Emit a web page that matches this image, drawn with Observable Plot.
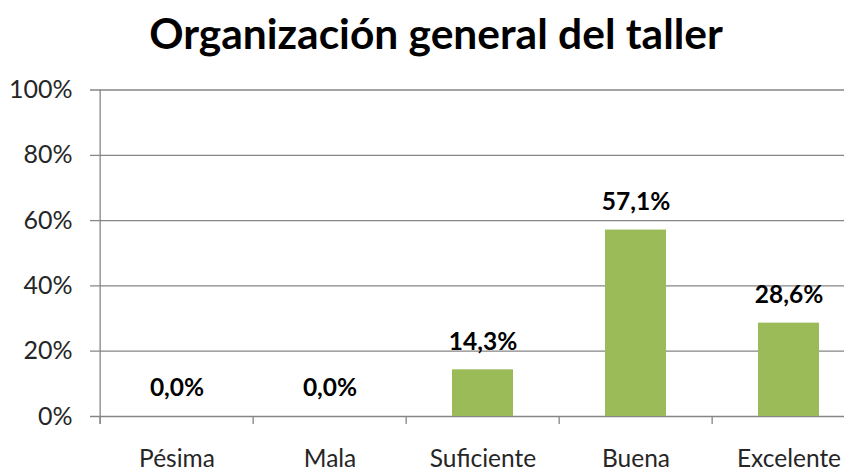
<!DOCTYPE html>
<html>
<head>
<meta charset="utf-8">
<script src="https://cdn.jsdelivr.net/npm/d3@7"></script>
<script src="https://cdn.jsdelivr.net/npm/@observablehq/plot@0.6"></script>
<style>
  html, body { margin: 0; padding: 0; background: #fff; overflow: hidden; }
  #wrap { position: relative; width: 844px; height: 469px; }
  #title { position: absolute; left: 0; top: 8px; width: 872px; text-align: center;
           font-family: Lato, sans-serif; font-weight: bold; font-size: 42.5px; color: #000;
           line-height: 50px; }
  #chart { position: absolute; left: 0; top: 70px; }
</style>
</head>
<body>
<div id="wrap">
  <div id="title">Organización general del taller</div>
  <div id="chart"></div>
</div>
<script>
const categories = ["Pésima", "Mala", "Suficiente", "Buena", "Excelente"];
const values = [0.0, 0.0, 14.3, 57.1, 28.6];
const yTicks = [0, 20, 40, 60, 80, 100];

const data = categories.map((c, i) => ({category: c, value: values[i]}));
const fmt = v => v.toFixed(1).replace(".", ",") + "%";

const W = 844, H = 399;
const x0 = 98, x1 = 866.5;
const step = (x1 - x0) / categories.length;
const grid = "#868686";

const plot = Plot.plot({
  width: W,
  height: H,
  marginTop: 19.5,
  marginBottom: 53,
  marginLeft: x0,
  marginRight: 0,
  style: {fontFamily: "Lato, sans-serif", background: "#fff", overflow: "hidden"},
  x: {domain: categories, range: [x0, x1], paddingInner: 0.6, paddingOuter: 0.3, label: null},
  y: {domain: [0, 100], label: null},
  marks: [
    Plot.ruleY(yTicks, {stroke: grid, strokeWidth: 1.3, insetLeft: -8, strokeOpacity: 1}),
    Plot.ruleX([categories[0]], {x: d => d, dx: -step / 2, stroke: grid, strokeWidth: 1.3, insetBottom: -8}),
    Plot.axisX({tickSize: 8, text: null, dx: -step / 2, stroke: grid, strokeWidth: 1.3, strokeOpacity: 1}),
    Plot.axisX({tickSize: 0, tickPadding: 33, fontSize: 24.5, fill: "#262626"}),
    Plot.axisY({ticks: yTicks, tickSize: 0, tickPadding: 26, fontSize: 25, fill: "#262626", tickFormat: d => d + "%"}),
    Plot.barY(data, {x: "category", y: "value", fill: "#9BBB59"}),
    Plot.text(data, {x: "category", y: "value", text: d => fmt(d.value), dy: -28, fontSize: 24.5, fontWeight: "bold", fill: "#000"})
  ]
});
document.getElementById("chart").appendChild(plot);
</script>
</body>
</html>
